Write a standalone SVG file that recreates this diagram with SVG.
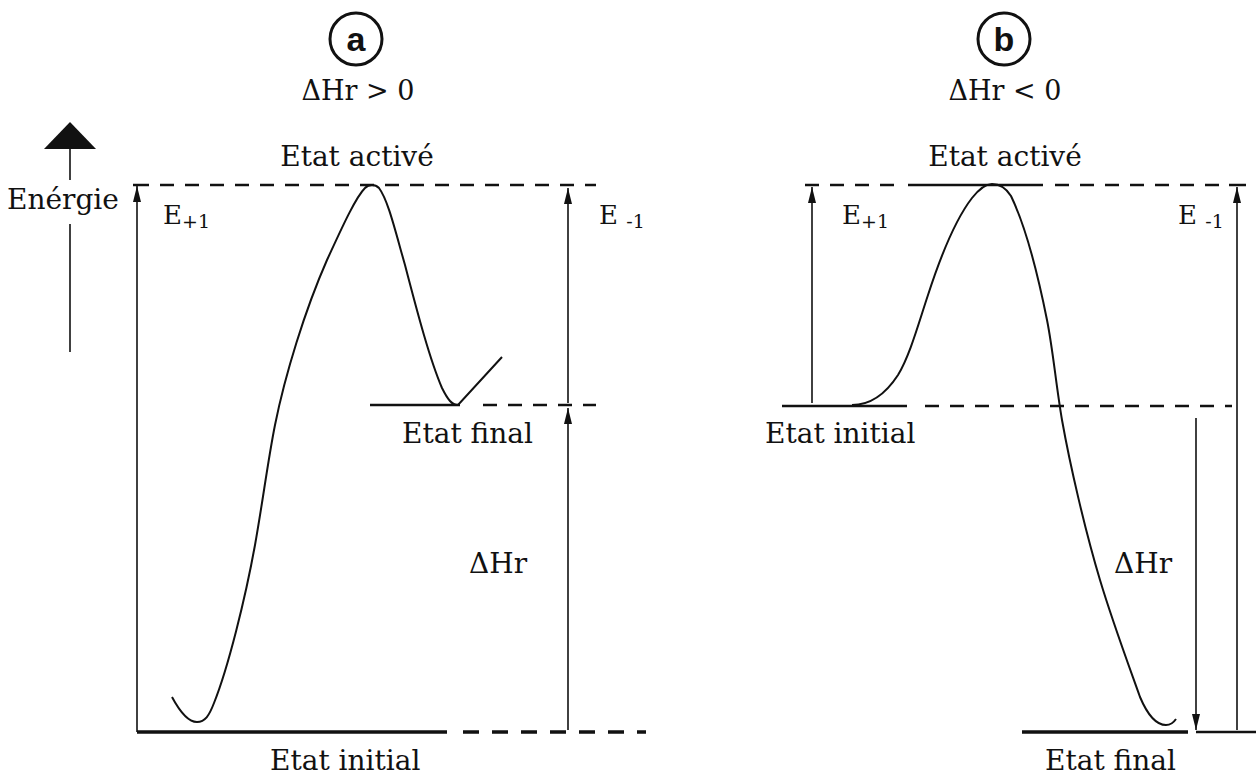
<svg xmlns="http://www.w3.org/2000/svg" width="1256" height="778" viewBox="0 0 1256 778">
<style>
text{font-family:"DejaVu Serif","Liberation Serif",serif;font-size:28px;fill:#111}
.ttl{font-size:27px}
.sub{font-size:19px}
.lbl{font-size:26px}
.circ{fill:none;stroke:#111;stroke-width:3}
.let{font-family:"Liberation Sans",Arial,sans-serif;font-weight:bold;font-size:34px}
.thin{stroke:#111;stroke-width:1.6;fill:none}
.curve{stroke:#111;stroke-width:2;fill:none}
.solid{stroke:#111;stroke-width:2.5;fill:none}
.thick{stroke:#111;stroke-width:3.5;fill:none}
.dash{stroke:#111;stroke-width:2.5;stroke-dasharray:14 11;fill:none}
.dashb{stroke:#111;stroke-width:3.5;stroke-dasharray:16 13;fill:none}
</style>
<defs>
<marker id="ah" viewBox="0 0 16 8" refX="16" refY="4" markerWidth="16" markerHeight="8" markerUnits="userSpaceOnUse" orient="auto">
<path d="M0,0 L16,4 L0,8 z" fill="#111"/>
</marker>
</defs>
<rect width="1256" height="778" fill="#fff"/>

<g id="axis">
<polygon points="70,122 44,149 96,149" fill="#111"/>
<line x1="70" y1="148" x2="70" y2="180" class="thin"/>
<line x1="70" y1="224" x2="70" y2="352" class="thin"/>
<text x="7" y="209">Enérgie</text>
</g>

<g id="panel-a-title">
<circle cx="356" cy="39" r="26" class="circ"/>
<text x="356" y="51" text-anchor="middle" class="let">a</text>
<text x="358" y="100" text-anchor="middle" class="ttl">ΔHr &gt; 0</text>
<text x="357" y="166" text-anchor="middle">Etat activé</text>
</g>

<g id="panel-a-levels">
<line x1="133" y1="185" x2="149" y2="185" class="solid"/>
<line x1="160" y1="185" x2="596" y2="185" class="dash"/>
<line x1="370" y1="405" x2="460" y2="405" class="solid"/>
<line x1="483" y1="405" x2="596" y2="405" class="dash"/>
<line x1="137" y1="732" x2="447" y2="732" class="thick"/>
<line x1="463" y1="732" x2="646" y2="732" class="dashb"/>
<text x="402" y="443">Etat final</text>
<text x="270" y="770">Etat initial</text>
</g>

<g id="panel-a-curve">
<path class="curve" d="M172,697 C180,712 188,722 197,722 C205,722 209,716 214,703 C228,668 245,600 255,545 C263,500 268,460 275,425 C285,375 305,310 327,260 C340,232 355,198 365,188 C369,184 375,184 379,188 C388,200 395,230 405,265 C418,315 430,360 442,388 C448,400 452,405 458,405 L502,357"/>
</g>

<g id="connectors">
<line x1="137" y1="732" x2="137" y2="186" class="thin" marker-end="url(#ah)"/>
<line x1="568" y1="403" x2="568" y2="188" class="thin" marker-end="url(#ah)"/>
<line x1="568" y1="730" x2="568" y2="408" class="thin" marker-end="url(#ah)"/>
<line x1="812" y1="403" x2="812" y2="187" class="thin" marker-end="url(#ah)"/>
<line x1="1196" y1="418" x2="1196" y2="730" class="thin" marker-end="url(#ah)"/>
<line x1="1237" y1="730" x2="1237" y2="187" class="thin" marker-end="url(#ah)"/>
</g>

<g id="panel-a-labels">
<text x="163" y="224" class="lbl">E<tspan class="sub" dy="4">+1</tspan></text>
<text x="599" y="224" class="lbl">E <tspan class="sub" dy="4">-1</tspan></text>
<text x="469" y="573">ΔHr</text>
</g>

<g id="panel-b-title">
<circle cx="1004" cy="39" r="26" class="circ"/>
<text x="1004" y="51" text-anchor="middle" class="let">b</text>
<text x="1005" y="100" text-anchor="middle" class="ttl">ΔHr &lt; 0</text>
<text x="1005" y="166" text-anchor="middle">Etat activé</text>
</g>

<g id="panel-b-levels">
<line x1="805" y1="185" x2="905" y2="185" class="dash"/>
<line x1="908" y1="185" x2="1043" y2="185" class="solid"/>
<line x1="1055" y1="185" x2="1225" y2="185" class="dash"/>
<line x1="1229" y1="185" x2="1246" y2="185" class="solid"/>
<line x1="782" y1="406" x2="907" y2="406" class="solid"/>
<line x1="925" y1="406" x2="1232" y2="406" class="dash"/>
<line x1="1022" y1="732" x2="1188" y2="732" class="thick"/>
<line x1="1196" y1="732" x2="1256" y2="732" class="solid"/>
<text x="765" y="443">Etat initial</text>
<text x="1045" y="770">Etat final</text>
</g>

<g id="panel-b-curve">
<path class="curve" d="M852,405 C870,405 885,395 898,375 C910,355 918,325 928,295 C940,258 955,220 972,198 C980,188 986,184 992,184 C1000,184 1006,188 1011,196 C1025,225 1038,275 1047,320 C1053,350 1056,385 1062,420 C1070,465 1085,530 1100,580 C1112,620 1125,655 1140,697 C1148,716 1157,725 1166,725 C1170,725 1174,722 1176,719"/>
</g>

<g id="panel-b-labels">
<text x="842" y="224" class="lbl">E<tspan class="sub" dy="4">+1</tspan></text>
<text x="1178" y="224" class="lbl">E <tspan class="sub" dy="4">-1</tspan></text>
<text x="1114" y="573">ΔHr</text>
</g>
</svg>
